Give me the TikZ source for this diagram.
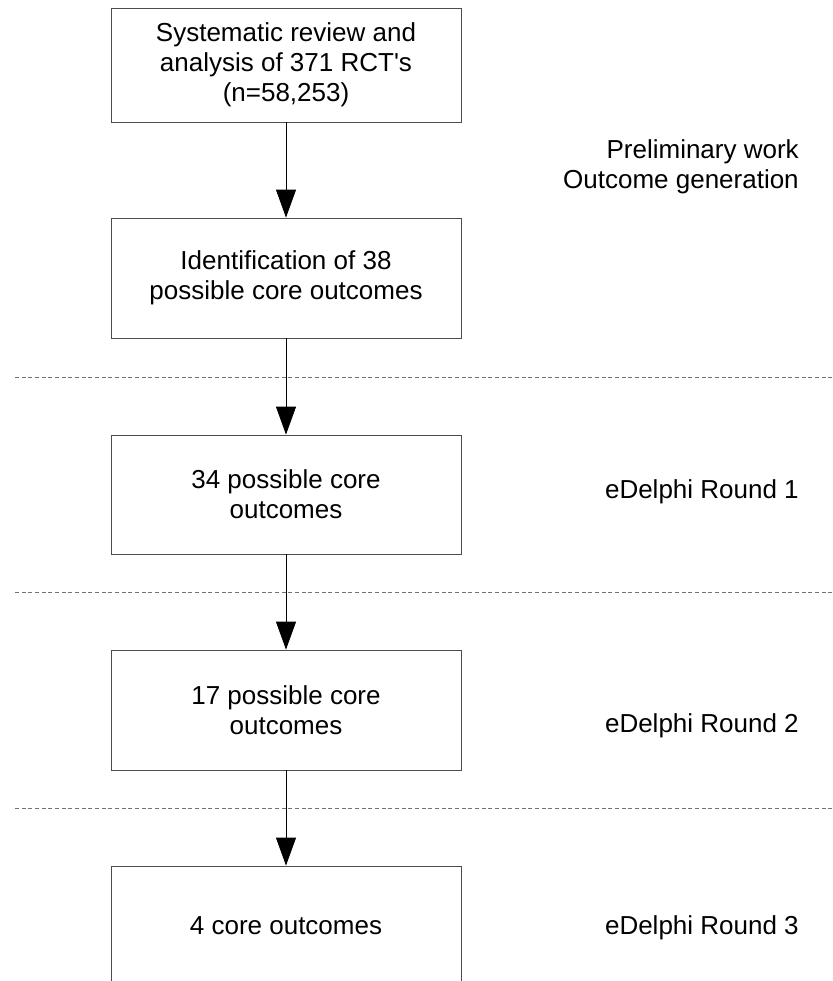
\documentclass[tikz,border=0pt]{standalone}
\usepackage{fontspec}
\setmainfont{Liberation Sans}
\usetikzlibrary{arrows.meta}

\begin{document}
\begin{tikzpicture}[x=0.75pt, y=-0.75pt,
	stagebox/.style={rectangle, draw=black!70, line width=0.6pt, minimum width=262.5pt, align=center, font=\fontsize{19.5}{22.5}\selectfont},
	phase/.style={anchor=east, inner sep=0pt, align=right, font=\fontsize{19.5}{22.5}\selectfont},
	sep/.style={draw=black!55, line width=0.6pt, dash pattern=on 3pt off 2pt},
	flow/.style={draw=black, line width=0.6pt, -{Triangle[length=21pt, width=15pt]}}]
				\useasboundingbox (0, 0) rectangle (832, 981);
				\clip (0, 0) rectangle (832, 981);

				\node[stagebox, minimum height=85.5pt] (review) at (286, 65) {Systematic review and\\analysis of 371 RCT\textquotesingle s\\(n=58,253)};
				\node[stagebox, minimum height=90pt] (ident) at (286, 278) {Identification of 38\\possible core outcomes};
				\node[stagebox, minimum height=89.25pt] (round1) at (286, 494.5) {34 possible core\\outcomes};
				\node[stagebox, minimum height=90pt] (round2) at (286, 710) {17 possible core\\outcomes};
				\node[stagebox, minimum height=90pt] (round3) at (286, 926) {4 core outcomes};

				\node[phase] (prelim) at (799, 167) {Preliminary work\\Outcome generation};
				\node[phase] (ed1) at (799, 492) {eDelphi Round 1};
				\node[phase] (ed2) at (799, 726) {eDelphi Round 2};
				\node[phase] (ed3) at (799, 928) {eDelphi Round 3};

				\draw[sep] (15, 377) -- (832, 377);
				\draw[sep] (15, 592) -- (832, 592);
				\draw[sep] (15, 808) -- (832, 808);

				\draw[flow] (review) -- (ident);
				\draw[flow] (ident) -- (round1);
				\draw[flow] (round1) -- (round2);
				\draw[flow] (round2) -- (round3);
			\end{tikzpicture}
\end{document}
